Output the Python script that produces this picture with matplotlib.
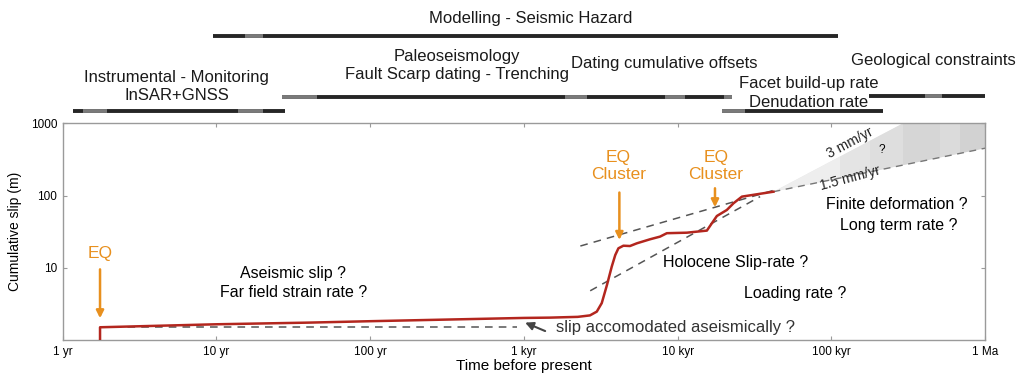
import matplotlib.pyplot as plt
from matplotlib.patches import Polygon
from matplotlib.transforms import blended_transform_factory

plt.rcParams['font.family'] = ['Liberation Sans', 'DejaVu Sans']

# ---- data ----
# cumulative slip history (years before present, metres)
t_slip = [1.75, 1.75, 10, 40, 100, 1000, 1480, 2240, 2690, 2980, 3210, 3470,
          3730, 3930, 4120, 4440, 4900, 5430, 6620, 7690, 8510, 11500, 15500,
          16700, 18000, 20900, 23100, 26200, 32700, 42000]
slip = [1.0, 1.5, 1.65, 1.74, 1.82, 2.02, 2.04, 2.09, 2.19, 2.47, 3.24, 5.77,
        10.4, 15.0, 18.6, 20.2, 20.0, 21.8, 24.8, 27.0, 30.1, 30.6, 32.7,
        41.3, 52.1, 63.1, 78.2, 96.6, 104, 113]

# dashed rate lines
holo_t = [2330, 43300]
holo_s = [20.0, 120]
load_t = [2700, 34400]
load_s = [4.8, 96.6]
aseis_t = [1.75, 900]
aseis_s = [1.53, 1.53]

# long term wedge (3 mm/yr - 1.5 mm/yr)
wedge_t = [42000, 293000, 1e6, 1e6]
wedge_s = [113, 1000, 1000, 452]
band_edges = [42000, 114000, 179000, 293000, 510000, 690000, 1e6]
band_greys = ['#eeeeee', '#e4e4e4', '#dedede', '#d6d6d6', '#dbdbdb', '#d2d2d2']

# earthquakes (x, arrow top, arrow tip, label y)
eq_t = [1.75, 4180, 17500]
eq_top = [9.5, 110, 126]
eq_tip = [2.0, 24.3, 68.9]
eq_lab_t = [1.75, 4120, 17800]
eq_lab_s = [15.9, 257, 257]
eq_lab = ['EQ', 'EQ\nCluster', 'EQ\nCluster']

# method bars above the plot: start, end (yr), level, light segments
bar_start = [9.5, 26.6, 1.16, 19500, 177000]
bar_end = [110000, 22600, 28, 216000, 1e6]
bar_level = [1.403, 1.121, 1.057, 1.057, 1.126]
bar_light = [[(15.4, 20.1)],
             [(26.6, 45), (1850, 2580), (8300, 11200), (20100, 22600)],
             [(1.35, 1.93), (13.8, 20.1)],
             [(19500, 27600)],
             [(408000, 527000)]]

method_lab = ['Modelling - Seismic Hazard',
              'Paleoseismology\nFault Scarp dating - Trenching',
              'Instrumental - Monitoring\nInSAR+GNSS',
              'Dating cumulative offsets', 'Facet build-up rate',
              'Denudation rate', 'Geological constraints']
method_t = [1110, 367, 5.5, 8130, 71100, 70600, 459000]
method_y = [1.486, 1.267, 1.170, 1.278, 1.186, 1.098, 1.292]

xticks = [1, 10, 100, 1000, 1e4, 1e5, 1e6]
xtick_lab = ['1 yr', '10 yr', '100 yr', '1 kyr', '10 kyr', '100 kyr', '1 Ma']
yticks = [10, 100, 1000]

# ---- figure ----
orange = '#e8901e'
dgrey = '#555555'

fig = plt.figure(figsize=(10.24, 3.89), dpi=100)
ax = fig.add_axes([0.0612, 0.126, 0.9008, 0.557])
ax.set_xscale('log')
ax.set_yscale('log')
ax.set_xlim(1, 1e6)
ax.set_ylim(1, 1000)

# wedge with vertical grey bands
wedge = Polygon(list(zip(wedge_t, wedge_s)), closed=True, fc='#e8e8e8',
                ec='none', zorder=1)
ax.add_patch(wedge)
for i in range(len(band_greys)):
    sp = ax.axvspan(band_edges[i], band_edges[i + 1], color=band_greys[i],
                    lw=0, zorder=1.1)
    sp.set_clip_path(wedge)
ax.plot([wedge_t[0], wedge_t[3]], [wedge_s[0], wedge_s[3]], ls=(0, (5, 4)),
        color='#777777', lw=1, zorder=2)

ax.plot(holo_t, holo_s, ls=(0, (5, 4)), color=dgrey, lw=1.1, zorder=2)
ax.plot(load_t, load_s, ls=(0, (5, 4)), color=dgrey, lw=1.1, zorder=2)
ax.plot(aseis_t, aseis_s, ls=(0, (5, 4)), color=dgrey, lw=1.1, zorder=2)

ax.plot(t_slip, slip, color='#b3261e', lw=1.8, zorder=3,
        solid_joinstyle='round')

for i in range(len(eq_t)):
    ax.annotate('', xy=(eq_t[i], eq_tip[i]), xytext=(eq_t[i], eq_top[i]),
                arrowprops=dict(arrowstyle='-|>', color=orange, lw=1.8,
                                mutation_scale=11, shrinkA=0, shrinkB=0),
                zorder=4)
    ax.text(eq_lab_t[i], eq_lab_s[i], eq_lab[i], color=orange, fontsize=12.5,
            ha='center', va='center', linespacing=1.2)

ax.annotate('', xy=(1019, 1.74), xytext=(1375, 1.33),
            arrowprops=dict(arrowstyle='-|>', color='#444444', lw=1.5,
                            mutation_scale=12, shrinkA=0, shrinkB=0))
ax.text(1630, 1.5, 'slip accomodated aseismically ?', fontsize=12,
        color='#333333', ha='left', va='center')

fs = 11.5
ax.text(31.7, 8.4, 'Aseismic slip ?', fontsize=fs, ha='center', va='center')
ax.text(31.7, 4.5, 'Far field strain rate ?', fontsize=fs, ha='center',
        va='center')
ax.text(23700, 11.8, 'Holocene Slip-rate ?', fontsize=fs, ha='center',
        va='center')
ax.text(58000, 4.34, 'Loading rate ?', fontsize=fs, ha='center',
        va='center')
ax.text(267000, 75.6, 'Finite deformation ?', fontsize=fs, ha='center',
        va='center')
ax.text(273000, 39, 'Long term rate ?', fontsize=fs, ha='center',
        va='center')
ax.text(133000, 540, '3 mm/yr', fontsize=10, ha='center', va='center',
        rotation=28, color='#222222')
ax.text(213000, 427, '?', fontsize=8.5, ha='center', va='center')
ax.text(133000, 172, '1.5 mm/yr', fontsize=10, ha='center', va='center',
        rotation=15, color='#222222')

# method bars and labels above the axes
tr = blended_transform_factory(ax.transData, ax.transAxes)
for i in range(len(bar_start)):
    ax.plot([bar_start[i], bar_end[i]], [bar_level[i]] * 2, color='#262626',
            lw=2.8, transform=tr, clip_on=False, solid_capstyle='butt')
    for a, b in bar_light[i]:
        ax.plot([a, b], [bar_level[i]] * 2, color='#7a7a7a', lw=2.8,
                transform=tr, clip_on=False, solid_capstyle='butt')
for i in range(len(method_lab)):
    ax.text(method_t[i], method_y[i], method_lab[i], transform=tr,
            fontsize=12, ha='center', va='center', linespacing=1.25,
            color='#1a1a1a')

# axes styling
for s in ax.spines.values():
    s.set_color('#9a9a9a')
    s.set_linewidth(1.0)
ax.set_xticks(xticks)
ax.set_xticklabels(xtick_lab)
ax.set_yticks(yticks)
ax.set_yticklabels([str(v) for v in yticks])
ax.minorticks_off()
ax.tick_params(direction='in', length=3, color='#9a9a9a', labelsize=8.5,
               top=True, right=True, pad=4)
ax.set_xlabel('Time before present', fontsize=11, labelpad=1)
ax.set_ylabel('Cumulative slip (m)', fontsize=10, labelpad=6)

fig.savefig('out.png', dpi=100)
